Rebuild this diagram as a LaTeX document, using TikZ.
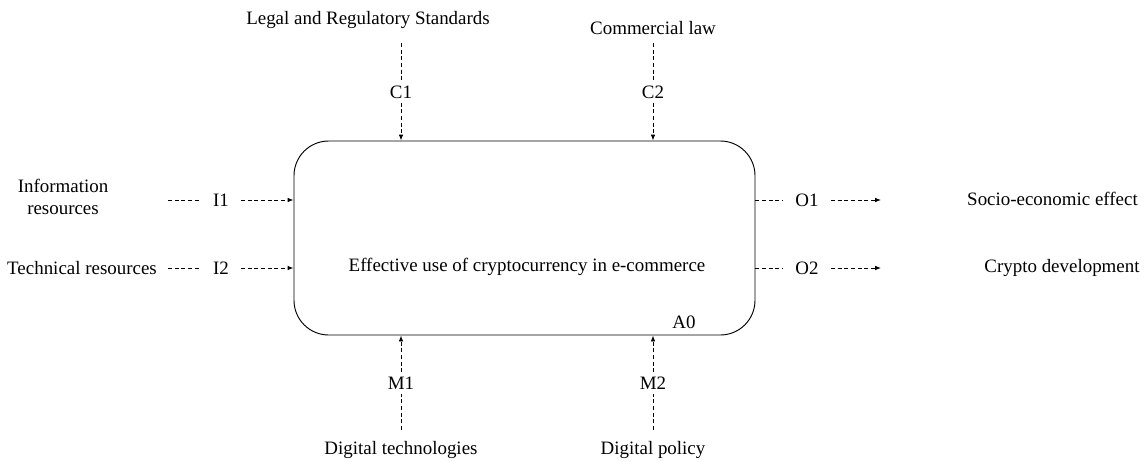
\documentclass[tikz,border=0pt]{standalone}
\usepackage{fontspec}
\setmainfont{Liberation Serif}
\usetikzlibrary{arrows.meta,calc}
\begin{document}
\begin{tikzpicture}[x=0.75pt,y=-0.75pt,
  txt/.style={font=\fontsize{14.2}{16}\selectfont, inner sep=0pt, align=center},
  vlbl/.style={txt, inner ysep=3pt, fill=white},
  hlbl/.style={txt, inner xsep=9pt, inner ysep=2pt},
  flow/.style={line width=0.7pt, dash pattern=on 3pt off 2pt},
  arr/.style={flow, -{Latex[length=4.5pt,width=3.5pt]}}]
\useasboundingbox (0,0) rectangle (1147,461);
% main activity box
\node[draw, line width=0.7pt, rounded corners=26pt, minimum width=345.75pt, minimum height=145.5pt] (box) at (524.5,238) {};
\node[txt] (title) at (527,267) {Effective use of cryptocurrency in e-commerce};
\node[txt] (a0) at (684,322) {A0};
% controls
\node[txt] (legal) at (368,20) {Legal and Regulatory Standards};
\node[txt] (comm) at (653,28) {Commercial law};
\node[vlbl] (C1) at (401,92) {C1};
\node[vlbl] (C2) at (653,92) {C2};
\coordinate (c1from) at (401,43);
\coordinate (c2from) at (653,43);
\draw[flow] (c1from) -- (C1);
\draw[arr] (C1) -- (C1 |- box.north);
\draw[flow] (c2from) -- (C2);
\draw[arr] (C2) -- (C2 |- box.north);
% inputs
\node[txt] (info) at (63,197) {Information\\resources};
\node[txt] (tech) at (82,268) {Technical resources};
\node[hlbl] (I1) at (221,200) {I1};
\node[hlbl] (I2) at (221,268) {I2};
\coordinate (i1from) at (168,200);
\coordinate (i2from) at (168,268);
\draw[flow] (i1from) -- (I1);
\draw[arr] (I1) -- (I1 -| box.west);
\draw[flow] (i2from) -- (I2);
\draw[arr] (I2) -- (I2 -| box.west);
% outputs
\node[hlbl] (O1) at (807,200) {O1};
\node[hlbl] (O2) at (807,268) {O2};
\node[txt, anchor=east] (socio) at (1138,199) {Socio-economic effect};
\node[txt] (crypto) at (1062,268) {Crypto development};
\coordinate (o1to) at (881,200);
\coordinate (o2to) at (881,268);
\draw[flow] (O1 -| box.east) -- (O1);
\draw[arr] (O1) -- (o1to);
\draw[flow] (O2 -| box.east) -- (O2);
\draw[arr] (O2) -- (o2to);
% mechanisms
\node[vlbl] (M1) at (401,383) {M1};
\node[vlbl] (M2) at (653,383) {M2};
\node[txt] (dtech) at (401,450) {Digital technologies};
\node[txt] (dpol) at (653,450) {Digital policy};
\coordinate (m1from) at (401,430);
\coordinate (m2from) at (653,430);
\draw[flow] (m1from) -- (M1);
\draw[arr] (M1) -- (M1 |- box.south);
\draw[flow] (m2from) -- (M2);
\draw[arr] (M2) -- (M2 |- box.south);
\end{tikzpicture}
\end{document}
